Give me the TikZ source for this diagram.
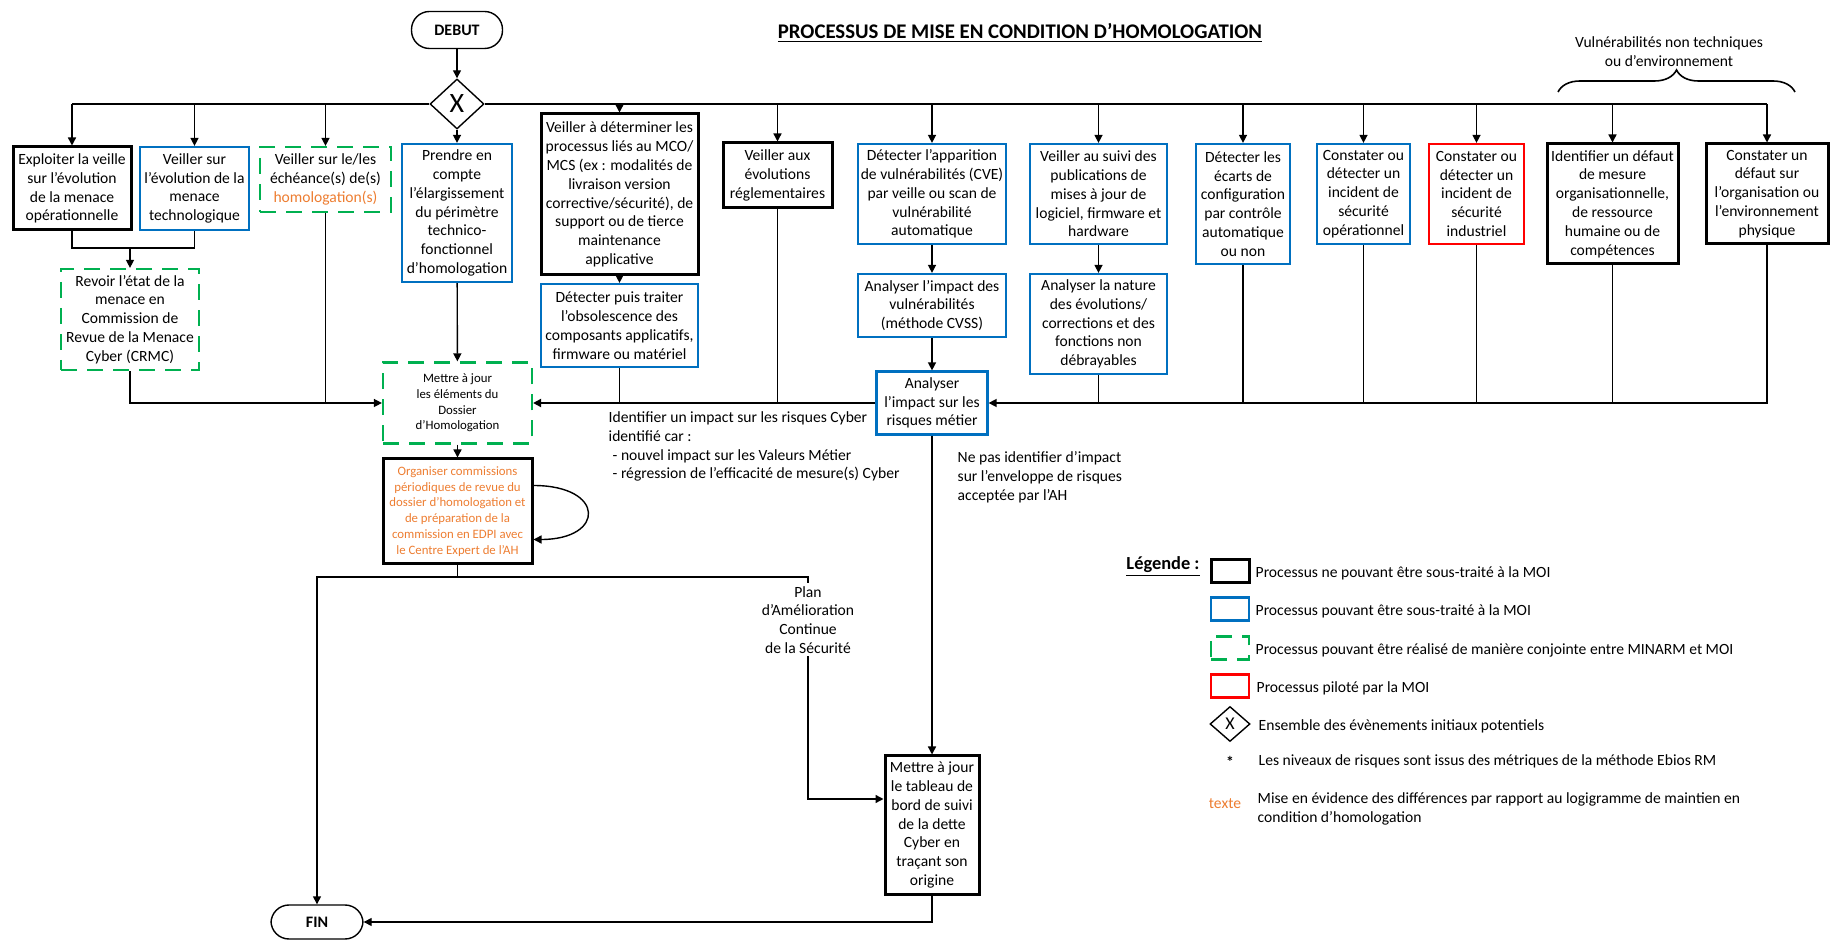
\documentclass[tikz,border=0pt]{standalone}
\usepackage{fontspec}
\setmainfont{Carlito}
\usepackage{tikz}
\usetikzlibrary{arrows.meta,positioning,shapes.geometric,decorations.pathreplacing}
\definecolor{moiblue}{RGB}{0,112,192}
\definecolor{jointgreen}{RGB}{0,176,80}
\definecolor{difforange}{RGB}{237,125,49}
\newcommand{\txt}{\fontsize{7.8pt}{9.4pt}\selectfont}
\newcommand{\smalltxt}{\fontsize{6.4pt}{7.9pt}\selectfont}

\begin{document}
\begin{tikzpicture}[x=0.5pt, y=-0.5pt, line width=0.7pt,
  arr/.style={-{Triangle[length=4pt,width=4pt]}},
  procbox/.style={draw, align=center, inner sep=1pt, font=\txt},
  blackbox/.style={procbox, line width=1.5pt},
  bluebox/.style={procbox, draw=moiblue, line width=1.1pt},
  greenbox/.style={procbox, draw=jointgreen, line width=1.1pt, dash pattern=on 8pt off 5pt},
  redbox/.style={procbox, draw=red, line width=1.1pt},
  term/.style={draw, rounded corners=9pt, minimum width=45.5pt, minimum height=18.5pt, font=\bfseries\fontsize{8pt}{9pt}\selectfont},
  lbl/.style={inner sep=1pt, font=\txt}]
  \useasboundingbox (0,0) rectangle (1832,940);

  \node[term] (debut) at (457,30) {DEBUT};
  \node[draw, shape=diamond, minimum width=27pt, minimum height=25pt, inner sep=0pt, font=\fontsize{14pt}{14pt}\selectfont] (evt) at (457,104) {X};
  \node[font=\bfseries\fontsize{10.4pt}{12pt}\selectfont] (title) at (1020,33) {\underline{PROCESSUS DE MISE EN CONDITION D’HOMOLOGATION}};
  \node[lbl, align=center] (vuln) at (1669,52) {Vulnérabilités non techniques\\ou d’environnement};
  \draw[decorate, decoration={brace, amplitude=11pt}, line width=0.8pt] (1558,92) -- (1795,92);

  \node[blackbox, minimum width=59pt, minimum height=41.5pt] (b1) at (72,188.5) {Exploiter la veille\\sur l’évolution\\de la menace\\opérationnelle};
  \node[bluebox, minimum width=54.5pt, minimum height=41.5pt] (b2) at (194.5,188.5) {Veiller sur\\l’évolution de la\\menace\\technologique};
  \node[greenbox, minimum width=65.5pt, minimum height=32.5pt] (b3) at (325.5,179.5) {Veiller sur le/les\\échéance(s) de(s)\\\textcolor{difforange}{homologation(s)}};
  \node[bluebox, minimum width=55pt, minimum height=69pt] (b4) at (457,213) {Prendre en\\compte\\l’élargissement\\du périmètre\\technico-\\fonctionnel\\d’homologation};
  \node[blackbox, minimum width=78.5pt, minimum height=80.5pt] (b5) at (619.5,194.5) {Veiller à déterminer les\\processus liés au MCO/\\MCS (ex : modalités de\\livraison version\\corrective/sécurité), de\\support ou de tierce\\maintenance\\applicative};
  \node[bluebox, minimum width=78.5pt, minimum height=41.5pt] (b6) at (619.5,325.5) {Détecter puis traiter\\l’obsolescence des\\composants applicatifs,\\firmware ou matériel};
  \node[blackbox, minimum width=54.5pt, minimum height=32.5pt] (b7) at (777.5,175.5) {Veiller aux\\évolutions\\réglementaires};
  \node[bluebox, minimum width=74pt, minimum height=50pt] (b8) at (932,194) {Détecter l’apparition\\de vulnérabilités (CVE)\\par veille ou scan de\\vulnérabilité\\automatique};
  \node[bluebox, minimum width=74pt, minimum height=31.5pt] (b9) at (932,305.5) {Analyser l’impact des\\vulnérabilités\\(méthode CVSS)};
  \node[bluebox, minimum width=68.5pt, minimum height=50pt] (b10) at (1098.5,194) {Veiller au suivi des\\publications de\\mises à jour de\\logiciel, firmware et\\hardware};
  \node[bluebox, minimum width=68.5pt, minimum height=50pt] (b11) at (1098.5,324) {Analyser la nature\\des évolutions/\\corrections et des\\fonctions non\\débrayables};
  \node[bluebox, minimum width=47pt, minimum height=60pt] (b12) at (1243,204) {Détecter les\\écarts de\\configuration\\par contrôle\\automatique\\ou non};
  \node[bluebox, minimum width=46.5pt, minimum height=50pt] (b13) at (1363.5,194) {Constater ou\\détecter un\\incident de\\sécurité\\opérationnel};
  \node[redbox, minimum width=47.5pt, minimum height=50pt] (b14) at (1476.5,194) {Constater ou\\détecter un\\incident de\\sécurité\\industriel};
  \node[blackbox, minimum width=65.5pt, minimum height=60pt] (b15) at (1612.5,204) {Identifier un défaut\\de mesure\\organisationnelle,\\de ressource\\humaine ou de\\compétences};
  \node[blackbox, minimum width=61pt, minimum height=50pt] (b16) at (1767,194) {Constater un\\défaut sur\\l’organisation ou\\l’environnement\\physique};

  \node[greenbox, minimum width=69pt, minimum height=50.5pt] (crmc) at (130,319.5) {Revoir l’état de la\\menace en\\Commission de\\Revue de la Menace\\Cyber (CRMC)};
  \node[greenbox, minimum width=74.5pt, minimum height=40.5pt, font=\smalltxt] (dossier) at (457.5,403) {Mettre à jour\\les éléments du\\Dossier\\d’Homologation};
  \node[blackbox, minimum width=74.5pt, minimum height=52.5pt, font=\smalltxt, text=difforange] (orga) at (457.5,511.5) {Organiser commissions\\périodiques de revue du\\dossier d’homologation et\\de préparation de la\\commission en EDPI avec\\le Centre Expert de l’AH};
  \node[bluebox, minimum width=55.5pt, minimum height=31.5pt] (ana) at (932,403) {Analyser\\l’impact sur les\\risques métier};
  \node[blackbox, minimum width=47pt, minimum height=69pt] (tab) at (932,825) {Mettre à jour\\le tableau de\\bord de suivi\\de la dette\\Cyber en\\traçant son\\origine};
  \node[term, minimum width=46pt, minimum height=17pt] (fin) at (317,922) {FIN};

  \node[lbl, anchor=north west, align=left] (impact) at (606,409) {Identifier un impact sur les risques Cyber\\identifié car :\\\hspace{2pt}- nouvel impact sur les Valeurs Métier\\\hspace{2pt}- régression de l’efficacité de mesure(s) Cyber};
  \node[lbl, anchor=north west, align=left] (nepas) at (955,449) {Ne pas identifier d’impact\\sur l’enveloppe de risques\\acceptée par l’AH};
  \node[lbl, align=center] (plan) at (808,620) {Plan\\d’Amélioration\\Continue\\de la Sécurité};

  \draw[arr] (debut) -- (evt);
  \draw (evt.west) -- (evt.west -| b1);
  \draw (evt.east) -- (evt.east -| b16);
  \foreach \bx in {b1,b2,b3}
    \draw[arr] (evt.west -| \bx) -- (\bx.north);
  \foreach \bx in {b5,b7,b8,b10,b12,b13,b14,b15,b16}
    \draw[arr] (evt.east -| \bx) -- (\bx.north);
  \draw[arr] (evt) -- (b4);
  \draw[arr] (b5) -- (b6);
  \draw[arr] (b8) -- (b9);
  \draw[arr] (b9) -- (ana);
  \draw[arr] (b10) -- (b11);

  \coordinate (jn) at (130,248);
  \draw (b1.south) |- (jn) -| (b2.south);
  \draw[arr] (jn) -- (crmc.north);
  \draw[arr] (crmc.south) |- (dossier.west);
  \draw (b3.south) -- (b3.south |- dossier.west);
  \draw[arr] (b4) -- (dossier);
  \draw[arr, line width=1pt] (ana.west) -- (dossier.east);
  \draw (b6.south) -- (b6.south |- dossier.east);
  \draw (b7.south) -- (b7.south |- dossier.east);
  \draw[arr] (b16.south) |- (ana.east);
  \foreach \bx in {b11,b12,b13,b14,b15}
    \draw (\bx.south) -- (\bx.south |- ana.east);
  \draw[arr] (dossier) -- (orga);
  \draw[arr] ([yshift=13pt]orga.east) .. controls +(36pt,0) and +(36pt,0) .. ([yshift=-14pt]orga.east);

  \coordinate (pac) at (808,577);
  \draw (orga.south) -- (orga.south |- pac);
  \draw[arr] (orga.south |- pac) -| (fin.north);
  \draw (orga.south |- pac) -- (pac) -- ++(0,6);
  \draw[arr] (plan.south) |- ([yshift=13pt]tab.west);
  \draw[arr] (ana) -- (tab);
  \draw[arr] (tab.south) |- (fin.east);

  \node[font=\bfseries\fontsize{9.2pt}{11pt}\selectfont] (legend) at (1163,567) {\underline{Légende :}};
  \node[blackbox, minimum width=19pt, minimum height=11.5pt] (k1) at (1230,571) {};
  \node[bluebox, minimum width=19pt, minimum height=11.5pt] (k2) at (1230,609) {};
  \node[greenbox, minimum width=19pt, minimum height=11.5pt] (k3) at (1230,648) {};
  \node[redbox, minimum width=19pt, minimum height=11.5pt] (k4) at (1230,686) {};
  \node[draw, shape=diamond, minimum width=20pt, minimum height=17.5pt, inner sep=0pt, font=\fontsize{9pt}{9pt}\selectfont] (k5) at (1230,724) {X};
  \node[font=\bfseries\txt] (k6) at (1230,762) {*};
  \node[lbl, text=difforange] (k7) at (1225,804) {texte};
  \node[lbl, anchor=west] (t1) at (1253,573) {Processus ne pouvant être sous-traité à la MOI};
  \node[lbl, anchor=west] (t2) at (1253,611) {Processus pouvant être sous-traité à la MOI};
  \node[lbl, anchor=west] (t3) at (1253,650) {Processus pouvant être réalisé de manière conjointe entre MINARM et MOI};
  \node[lbl, anchor=west] (t4) at (1254,688) {Processus piloté par la MOI};
  \node[lbl, anchor=west] (t5) at (1256,726) {Ensemble des évènements initiaux potentiels};
  \node[lbl, anchor=west] (t6) at (1256,761) {Les niveaux de risques sont issus des métriques de la méthode Ebios RM};
  \node[lbl, anchor=west, align=left] (t7) at (1255,809) {Mise en évidence des différences par rapport au logigramme de maintien en\\condition d’homologation};
\end{tikzpicture}
\end{document}
